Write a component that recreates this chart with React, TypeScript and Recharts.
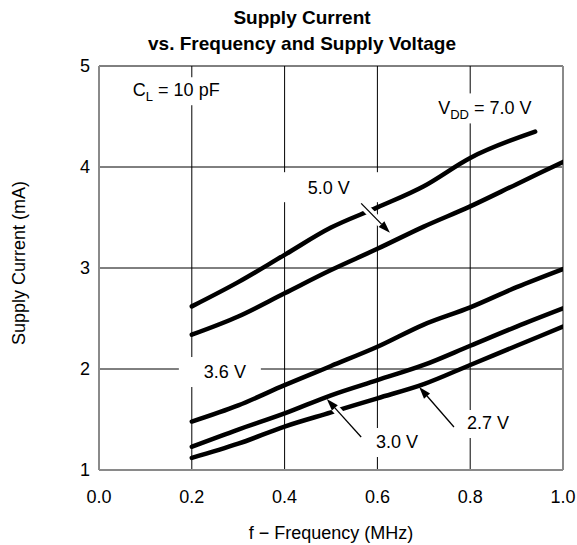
import React from 'react';
import { CartesianGrid, Line, LineChart, ReferenceDot, ReferenceLine, XAxis, YAxis } from 'recharts';

// frequency (MHz) and supply current (mA)
const freq = [0.2, 0.3, 0.4, 0.5, 0.6, 0.7, 0.8, 0.9, 1.0];
const freq7V0 = [0.2, 0.3, 0.4, 0.5, 0.6, 0.7, 0.8, 0.94];
const current7V0 = [2.62, 2.86, 3.13, 3.4, 3.6, 3.81, 4.09, 4.35];
const current5V0 = [2.34, 2.52, 2.75, 2.98, 3.19, 3.41, 3.61, 3.83, 4.05];
const current3V6 = [1.48, 1.64, 1.84, 2.03, 2.22, 2.44, 2.61, 2.81, 2.99];
const current3V0 = [1.23, 1.4, 1.56, 1.74, 1.89, 2.04, 2.23, 2.42, 2.6];
const current2V7 = [1.12, 1.26, 1.43, 1.57, 1.71, 1.85, 2.04, 2.23, 2.42];

const freqTicks = [0, 0.2, 0.4, 0.6, 0.8, 1.0];
const currentTicks = [1, 2, 3, 4, 5];

const toPoints = (xs: number[], ys: number[]) => xs.map((x, i) => ({ x, y: ys[i] }));

const series = [
	{ name: '7.0 V', data: toPoints(freq7V0, current7V0) },
	{ name: '5.0 V', data: toPoints(freq, current5V0) },
	{ name: '3.6 V', data: toPoints(freq, current3V6) },
	{ name: '3.0 V', data: toPoints(freq, current3V0) },
	{ name: '2.7 V', data: toPoints(freq, current2V7) },
];

const FONT = '"Liberation Sans", Arial, Helvetica, sans-serif';
const AXIS_GREY = '#8a8a8a';

// white box behind a curve label, text starts at cx
function note(parts: { t: string; sub?: boolean }[], left: number, right: number, top: number, bottom: number) {
	return (props: any) => {
		const { cx, cy } = props;
		let shifted = false;
		return (
			<g>
				<rect x={cx - left} y={cy - top} width={left + right} height={top + bottom} fill="#fff" />
				<text x={cx} y={cy + 6.5} fontFamily={FONT} fontSize={18} fill="#000">
					{parts.map((p, i) => {
						let dy = 0;
						if (p.sub && !shifted) {
							dy = 5;
							shifted = true;
						} else if (!p.sub && shifted) {
							dy = -5;
							shifted = false;
						}
						return (
							<tspan key={i} dy={dy} fontSize={p.sub ? 13 : 18}>
								{p.t}
							</tspan>
						);
					})}
				</text>
			</g>
		);
	};
}

// thin arrow with a white halo that cuts through the curves it crosses
function arrow(props: any) {
	const { x1, y1, x2, y2 } = props;
	const dx = x2 - x1;
	const dy = y2 - y1;
	const len = Math.hypot(dx, dy);
	const ux = dx / len;
	const uy = dy / len;
	const head = 12;
	const half = 4;
	const bx = x2 - ux * head;
	const by = y2 - uy * head;
	const haloEnd = len - 3;
	return (
		<g>
			<line x1={x1} y1={y1} x2={x1 + ux * haloEnd} y2={y1 + uy * haloEnd} stroke="#fff" strokeWidth={8} />
			<line x1={x1} y1={y1} x2={bx} y2={by} stroke="#000" strokeWidth={1.3} />
			<polygon
				points={`${x2},${y2} ${bx - uy * half},${by + ux * half} ${bx + uy * half},${by - ux * half}`}
				fill="#000"
			/>
		</g>
	);
}

export default function App() {
	return (
		<div style={{ position: 'absolute', left: 0, top: 0, width: 577, height: 545, background: '#fff' }}>
			<LineChart width={577} height={545} margin={{ top: 66, right: 14, bottom: 0, left: 0 }}>
				<CartesianGrid stroke="#000" strokeWidth={1} />
				<XAxis
					dataKey="x"
					type="number"
					domain={[0, 1]}
					ticks={freqTicks}
					tickFormatter={(v: number) => v.toFixed(1)}
					height={75}
					tickLine={false}
					tickSize={0}
					tickMargin={20}
					axisLine={{ stroke: AXIS_GREY, strokeWidth: 2 }}
					tick={{ fill: '#000', fontSize: 18, fontFamily: FONT }}
					allowDataOverflow
				/>
				<YAxis
					type="number"
					domain={[1, 5]}
					ticks={currentTicks}
					width={99}
					tickLine={false}
					tickSize={0}
					tickMargin={9}
					axisLine={{ stroke: AXIS_GREY, strokeWidth: 2 }}
					tick={{ fill: '#000', fontSize: 18, fontFamily: FONT }}
					allowDataOverflow
				/>
				<ReferenceLine x={1} stroke={AXIS_GREY} strokeWidth={2} />
				{series.map((s) => (
					<Line
						key={s.name}
						data={s.data}
						dataKey="y"
						name={s.name}
						type="monotone"
						stroke="#000"
						strokeWidth={4.5}
						strokeLinecap="round"
						dot={false}
						activeDot={false}
						isAnimationActive={false}
					/>
				))}

				<ReferenceDot x={0.073} y={4.77} r={0} shape={note([{ t: 'C' }, { t: 'L', sub: true }, { t: ' = 10 pF' }], 8, 100, 12, 16)} />
				<ReferenceDot x={0.731} y={4.59} r={0} shape={note([{ t: 'V' }, { t: 'DD', sub: true }, { t: ' = 7.0 V' }], 10, 108, 14, 16)} />
				<ReferenceDot x={0.45} y={3.8} r={0} shape={note([{ t: '5.0 V' }], 28, 72, 15, 15)} />
				<ReferenceDot x={0.226} y={1.98} r={0} shape={note([{ t: '3.6 V' }], 25, 57, 14, 16)} />
				<ReferenceDot x={0.597} y={1.287} r={0} shape={note([{ t: '3.0 V' }], 12, 55, 13, 16)} />
				<ReferenceDot x={0.793} y={1.475} r={0} shape={note([{ t: '2.7 V' }], 8, 55, 12, 16)} />

				<ReferenceLine segment={[{ x: 0.565, y: 3.64 }, { x: 0.627, y: 3.35 }]} shape={arrow} />
				<ReferenceLine segment={[{ x: 0.565, y: 1.327 }, { x: 0.491, y: 1.703 }]} shape={arrow} />
				<ReferenceLine segment={[{ x: 0.765, y: 1.426 }, { x: 0.69, y: 1.822 }]} shape={arrow} />

				<text x={302} y={24} textAnchor="middle" fontFamily={FONT} fontSize={19} fontWeight="bold" fill="#000">
					Supply Current
				</text>
				<text x={302} y={50} textAnchor="middle" fontFamily={FONT} fontSize={19} fontWeight="bold" fill="#000">
					vs. Frequency and Supply Voltage
				</text>
				<text x={331} y={539} textAnchor="middle" fontFamily={FONT} fontSize={18} fill="#000">
					f − Frequency (MHz)
				</text>
				<text
					x={19}
					y={263}
					transform="rotate(-90, 19, 263)"
					textAnchor="middle"
					dominantBaseline="central"
					fontFamily={FONT}
					fontSize={18}
					fill="#000"
				>
					Supply Current (mA)
				</text>
			</LineChart>
		</div>
	);
}
